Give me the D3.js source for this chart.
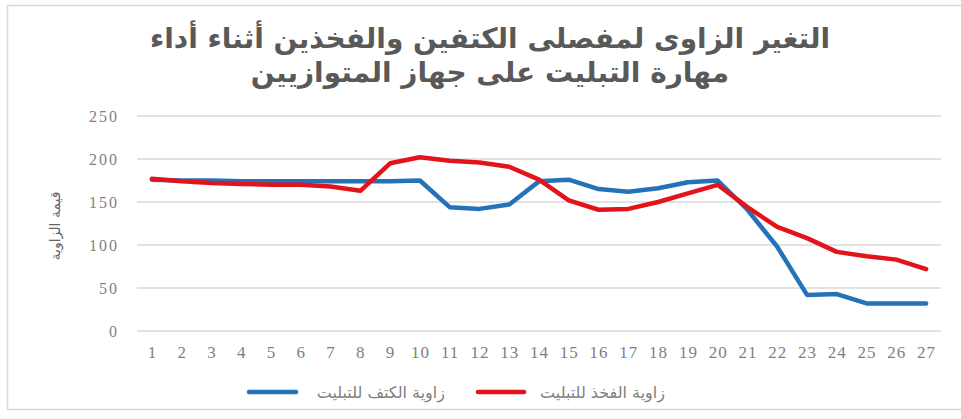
<!DOCTYPE html>
<html>
<head>
<meta charset="utf-8">
<script src="https://cdn.jsdelivr.net/npm/d3@7"></script>
<style>
  body { margin: 0; background: #fff; }
  svg { display: block; }
</style>
</head>
<body>
<figure id="chart" style="margin:0"></figure>
<script>
const categories = ["1","2","3","4","5","6","7","8","9","10","11","12","13","14","15","16","17","18","19","20","21","22","23","24","25","26","27"];
// shoulder angle (blue)
const shoulder = [176,175,175,174,174,174,174,174,174,175,144,142,147,174,176,165,162,166,173,175,141,98,42,43,32,32,32];
// hip angle (red)
const hip = [177,174,172,171,170,170,168,163,195,202,198,196,191,176,152,141,142,150,160,170,144,121,108,92,87,83,72];
const yTicks = [0, 50, 100, 150, 200, 250];
const titleLines = ["التغير الزاوى لمفصلى الكتفين والفخذين أثناء أداء", "مهارة التبليت على جهاز المتوازيين"];
const yTitle = "قيمة الزاوية";
const seriesNames = ["زاوية الكتف للتبليت", "زاوية الفخذ للتبليت"];

const width = 961, height = 419;
const plotLeft = 137, plotRight = 941, plotTop = 116, plotBottom = 331;
const blue = "#2473b8", red = "#e3131b";

const svg = d3.select("#chart").append("svg")
  .attr("width", width)
  .attr("height", height);

// chart frame
svg.append("rect")
  .attr("x", 7.5).attr("y", 5.5)
  .attr("width", 970).attr("height", 404)
  .attr("fill", "none")
  .attr("stroke", "#d9d9d9")
  .attr("stroke-width", 1.5);

// title
svg.append("g").selectAll("text")
  .data(titleLines)
  .enter()
  .append("text")
  .attr("x", 490)
  .attr("y", (d, i) => 48 + i * 34)
  .attr("text-anchor", "middle")
  .attr("direction", "rtl")
  .style("font-family", "'DejaVu Sans', sans-serif")
  .style("font-weight", "bold")
  .style("font-size", "28px")
  .attr("fill", "#595959")
  .text(d => d);

const x = d3.scalePoint()
  .domain(categories)
  .range([plotLeft, plotRight])
  .padding(0.5);

const y = d3.scaleLinear()
  .domain([0, 250])
  .range([plotBottom, plotTop]);

// gridlines
svg.append("g")
  .selectAll("line")
  .data(yTicks)
  .enter()
  .append("line")
  .attr("x1", plotLeft).attr("x2", plotRight)
  .attr("y1", d => y(d)).attr("y2", d => y(d))
  .attr("stroke", "#d9d9d9")
  .attr("stroke-width", 1.5);

// y axis labels
const yAxis = svg.append("g")
  .attr("transform", "translate(" + (plotLeft - 18) + ",0)")
  .call(d3.axisLeft(y).tickValues(yTicks).tickSize(0).tickPadding(0));
yAxis.select(".domain").remove();
yAxis.selectAll("text")
  .style("font-family", "'Liberation Serif', serif")
  .style("font-size", "16px")
  .style("letter-spacing", "2px")
  .attr("fill", "#7f7f7f");

// x axis labels
const xAxis = svg.append("g")
  .attr("transform", "translate(0," + (plotBottom + 11) + ")")
  .call(d3.axisBottom(x).tickSize(0).tickPadding(4));
xAxis.select(".domain").remove();
xAxis.selectAll("text")
  .style("font-family", "'Liberation Serif', serif")
  .style("font-size", "17px")
  .style("letter-spacing", "1px")
  .attr("fill", "#7f7f7f");

// y axis title
svg.append("text")
  .attr("transform", "translate(60,226) rotate(-90)")
  .attr("text-anchor", "middle")
  .attr("direction", "rtl")
  .style("font-family", "'DejaVu Sans', sans-serif")
  .style("font-size", "14px")
  .attr("fill", "#666666")
  .text(yTitle);

// lines
const line = d3.line()
  .x((d, i) => x(categories[i]))
  .y(d => y(d));

[[shoulder, blue], [hip, red]].forEach(([vals, col]) => {
  svg.append("path")
    .datum(vals)
    .attr("d", line)
    .attr("fill", "none")
    .attr("stroke", col)
    .attr("stroke-width", 4.5)
    .attr("stroke-linejoin", "round")
    .attr("stroke-linecap", "round");
});

// legend
const legend = [
  {name: seriesNames[0], color: blue, x1: 249, x2: 296, tx: 445},
  {name: seriesNames[1], color: red, x1: 478, x2: 524, tx: 665}
];
const lg = svg.append("g");
legend.forEach(d => {
  lg.append("line")
    .attr("x1", d.x1).attr("x2", d.x2)
    .attr("y1", 392).attr("y2", 392)
    .attr("stroke", d.color)
    .attr("stroke-width", 4.5)
    .attr("stroke-linecap", "round");
  lg.append("text")
    .attr("x", d.tx)
    .attr("y", 398)
    .attr("direction", "rtl")
    .attr("text-anchor", "start")
    .style("font-family", "'DejaVu Sans', sans-serif")
    .style("font-size", "16px")
    .style("letter-spacing", "0.5px")
    .attr("fill", "#7f7f7f")
    .text(d.name);
});
</script>
</body>
</html>
